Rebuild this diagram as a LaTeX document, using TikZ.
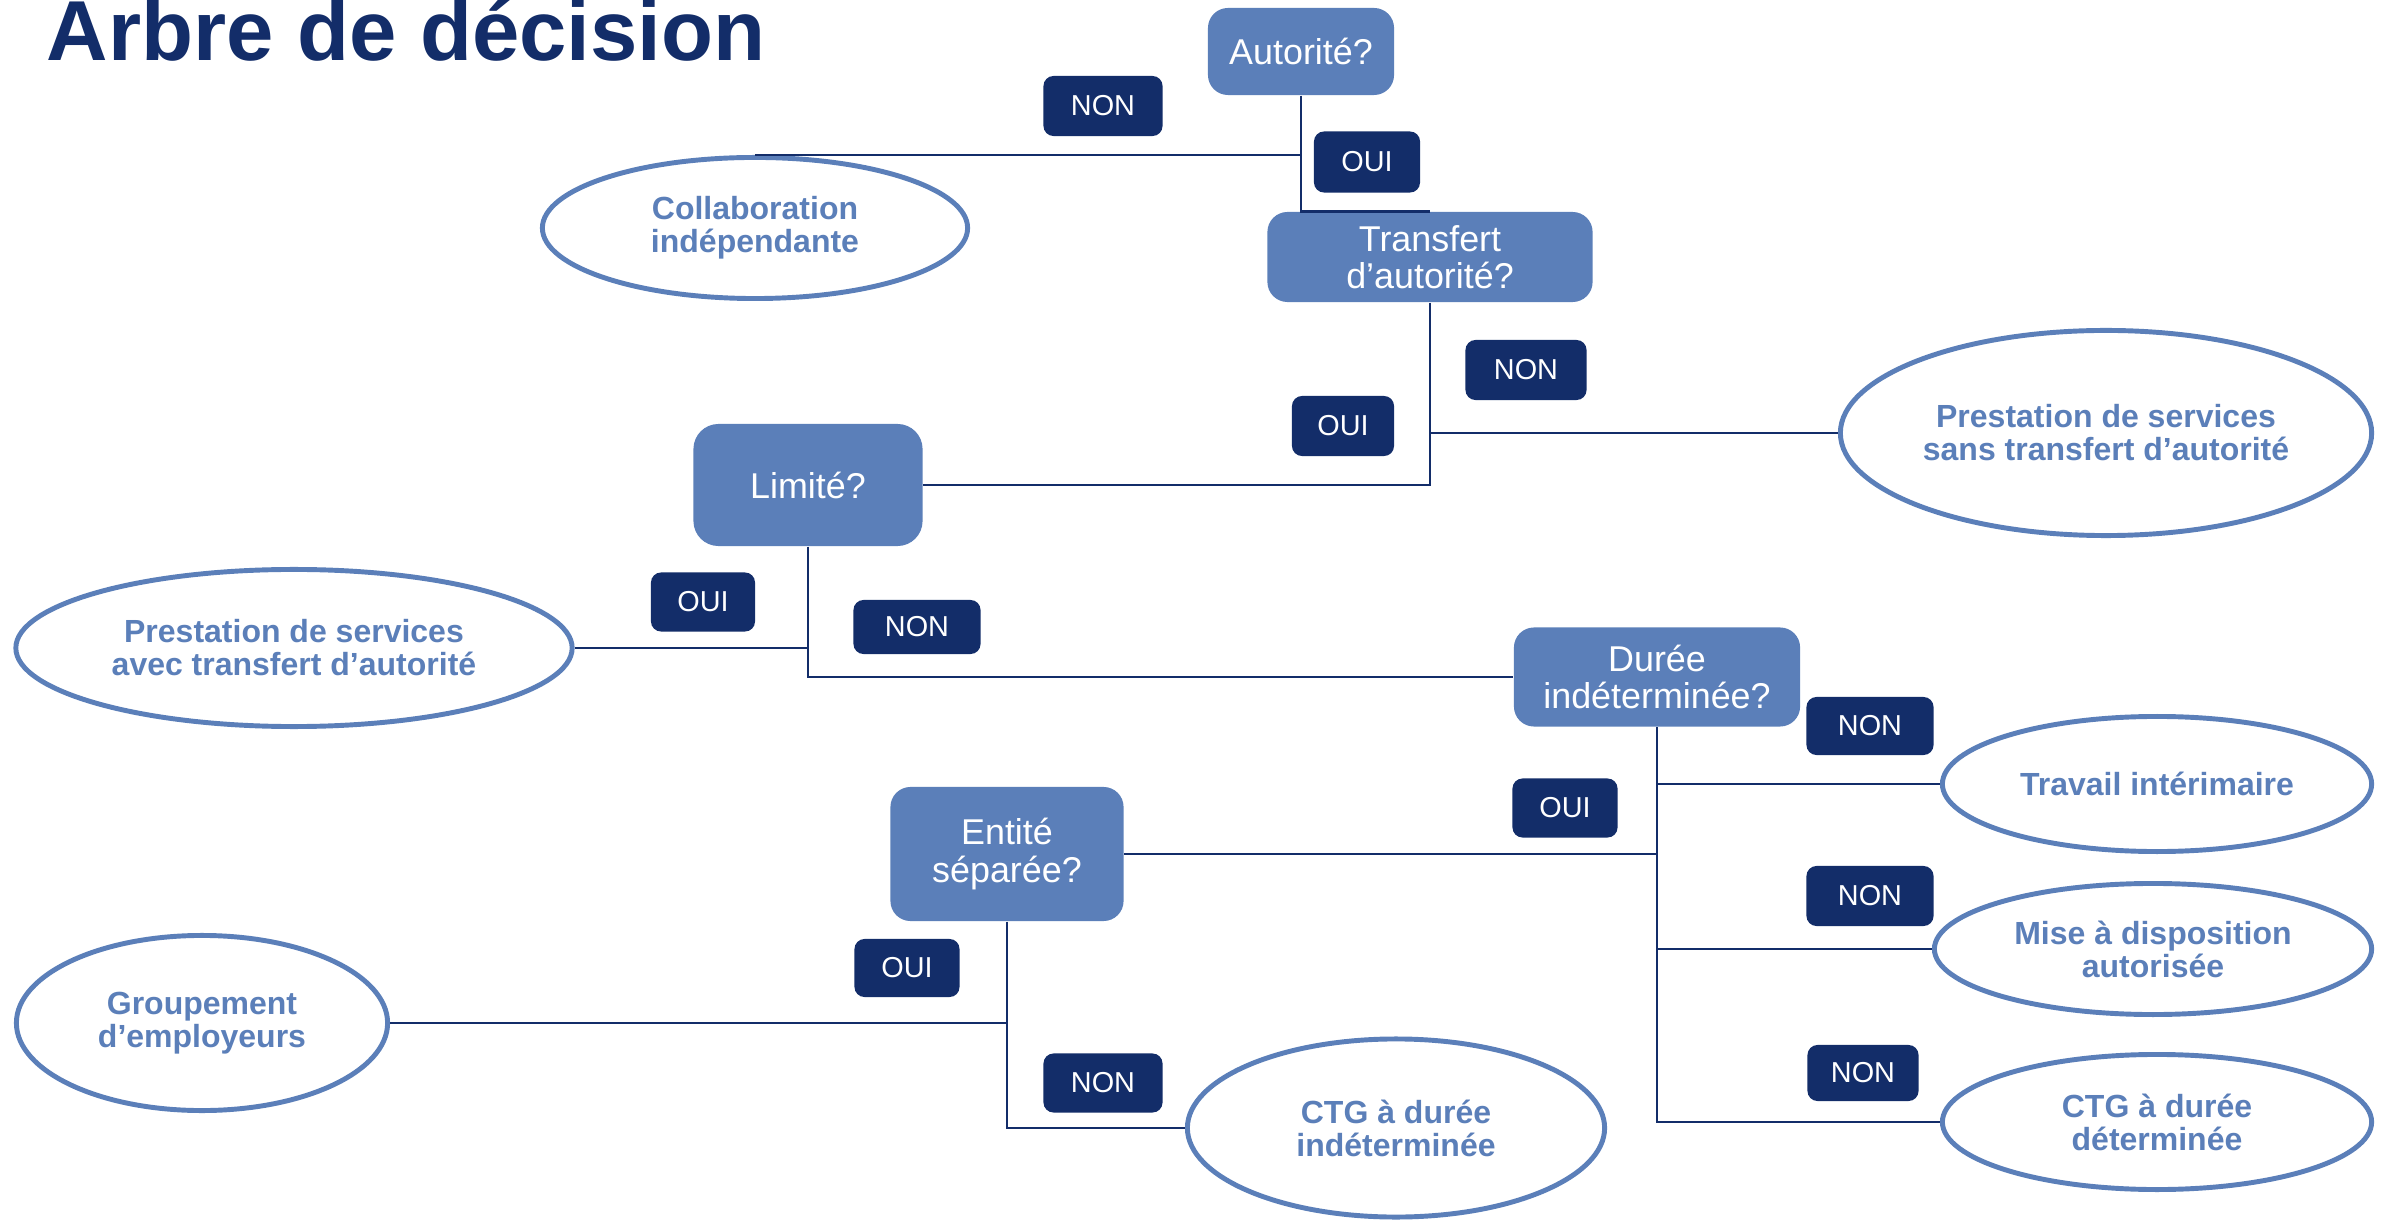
\documentclass[tikz,border=0pt]{standalone}
\usepackage{fontspec}
\setmainfont{Liberation Sans}
\usetikzlibrary{shapes.geometric}
\definecolor{boxblue}{RGB}{91,127,185}
\definecolor{navy}{RGB}{19,45,105}
\tikzset{
	question/.style={fill=boxblue, rounded corners=0.2cm, text=white, align=center, inner sep=0pt, font=\fontsize{10.2}{10.6}\selectfont},
	answer/.style={ellipse, draw=boxblue, line width=1.4pt, fill=white, text=boxblue, align=center, inner sep=0pt, font=\bfseries\fontsize{9.1}{9.4}\selectfont},
	tag/.style={fill=navy, rounded corners=0.1cm, text=white, inner sep=0pt, font=\fontsize{8.2}{9}\selectfont},
	link/.style={draw=navy, line width=0.8pt},
}

\begin{document}
\begin{tikzpicture}[x=0.01cm, y=-0.01cm]
			%%%%% START %%%%%
			\useasboundingbox (0, 0) rectangle (2391, 1222);
			
			\node[anchor=base west, text=navy, inner sep=0pt, font=\bfseries\fontsize{24.2}{29}\selectfont] (title) at (46, 61) {Arbre de décision};
			
			%%%%% QUESTIONS %%%%%
			\node[question, minimum width=1.86cm, minimum height=0.87cm] (aut) at (1301, 51.5) {Autorité?};
			\node[question, minimum width=3.25cm, minimum height=0.90cm] (tra) at (1430, 257) {Transfert\\d’autorité?};
			\node[question, minimum width=2.29cm, minimum height=1.22cm, rounded corners=0.25cm] (lim) at (808, 485) {Limité?};
			\node[question, minimum width=2.86cm, minimum height=0.99cm] (dur) at (1657, 677) {Durée\\indéterminée?};
			\node[question, minimum width=2.33cm, minimum height=1.34cm] (ent) at (1007, 854) {Entité\\séparée?};
			
			%%%%% ANSWERS %%%%%
			\node[answer, minimum width=4.25cm, minimum height=1.41cm] (coll) at (755, 228) {Collaboration\\indépendante};
			\node[answer, minimum width=5.31cm, minimum height=2.05cm] (pss) at (2106, 433) {Prestation de services\\sans transfert d’autorité};
			\node[answer, minimum width=5.56cm, minimum height=1.57cm] (pat) at (294, 648) {Prestation de services\\avec transfert d’autorité};
			\node[answer, minimum width=4.29cm, minimum height=1.35cm] (ti) at (2157, 784) {Travail intérimaire};
			\node[answer, minimum width=4.37cm, minimum height=1.31cm] (mad) at (2153, 949) {Mise à disposition\\autorisée};
			\node[answer, minimum width=4.29cm, minimum height=1.35cm] (ctgd) at (2157, 1122) {CTG à durée\\déterminée};
			\node[answer, minimum width=3.71cm, minimum height=1.75cm] (grp) at (202, 1023) {Groupement\\d’employeurs};
			\node[answer, minimum width=4.17cm, minimum height=1.78cm] (ctgi) at (1396, 1128) {CTG à durée\\indéterminée};
			
			%%%%% LINKS %%%%%
			\draw[link] (aut.south) |- (tra.north);
			\draw[link] (aut.south |- coll.north) -- (coll.north);
			
			\draw[link] (tra.south) |- (lim.east);
			\draw[link] (tra.south |- pss.west) -- (pss.west);
			
			\draw[link] (lim.south) |- (dur.west);
			\draw[link] (lim.south |- pat.east) -- (pat.east);
			
			\draw[link] (dur.south) |- (ctgd.west);
			\draw[link] (dur.south |- ti.west) -- (ti.west);
			\draw[link] (dur.south |- mad.west) -- (mad.west);
			\draw[link] (ent.east) -- (ent.east -| dur.south);
			
			\draw[link] (ent.south) |- (ctgi.west);
			\draw[link] (ent.south |- grp.east) -- (grp.east);
			
			%%%%% TAGS %%%%%
			\node[tag, minimum width=1.19cm, minimum height=0.60cm] (non1) at (1103, 106) {NON};
			\node[tag, minimum width=1.06cm, minimum height=0.61cm] (oui1) at (1367, 162) {OUI};
			\node[tag, minimum width=1.21cm, minimum height=0.60cm] (non2) at (1526, 370) {NON};
			\node[tag, minimum width=1.02cm, minimum height=0.60cm] (oui2) at (1343, 426) {OUI};
			\node[tag, minimum width=1.04cm, minimum height=0.59cm] (oui3) at (703, 602) {OUI};
			\node[tag, minimum width=1.27cm, minimum height=0.54cm] (non3) at (917, 627) {NON};
			\node[tag, minimum width=1.27cm, minimum height=0.58cm] (non4) at (1870, 726) {NON};
			\node[tag, minimum width=1.05cm, minimum height=0.59cm] (oui4) at (1565, 808) {OUI};
			\node[tag, minimum width=1.27cm, minimum height=0.60cm] (non5) at (1870, 896) {NON};
			\node[tag, minimum width=1.05cm, minimum height=0.58cm] (oui5) at (907, 968) {OUI};
			\node[tag, minimum width=1.11cm, minimum height=0.56cm] (non6) at (1863, 1073) {NON};
			\node[tag, minimum width=1.19cm, minimum height=0.59cm] (non7) at (1103, 1083) {NON};
			
			%%%%% END %%%%%
\end{tikzpicture}
\end{document}
